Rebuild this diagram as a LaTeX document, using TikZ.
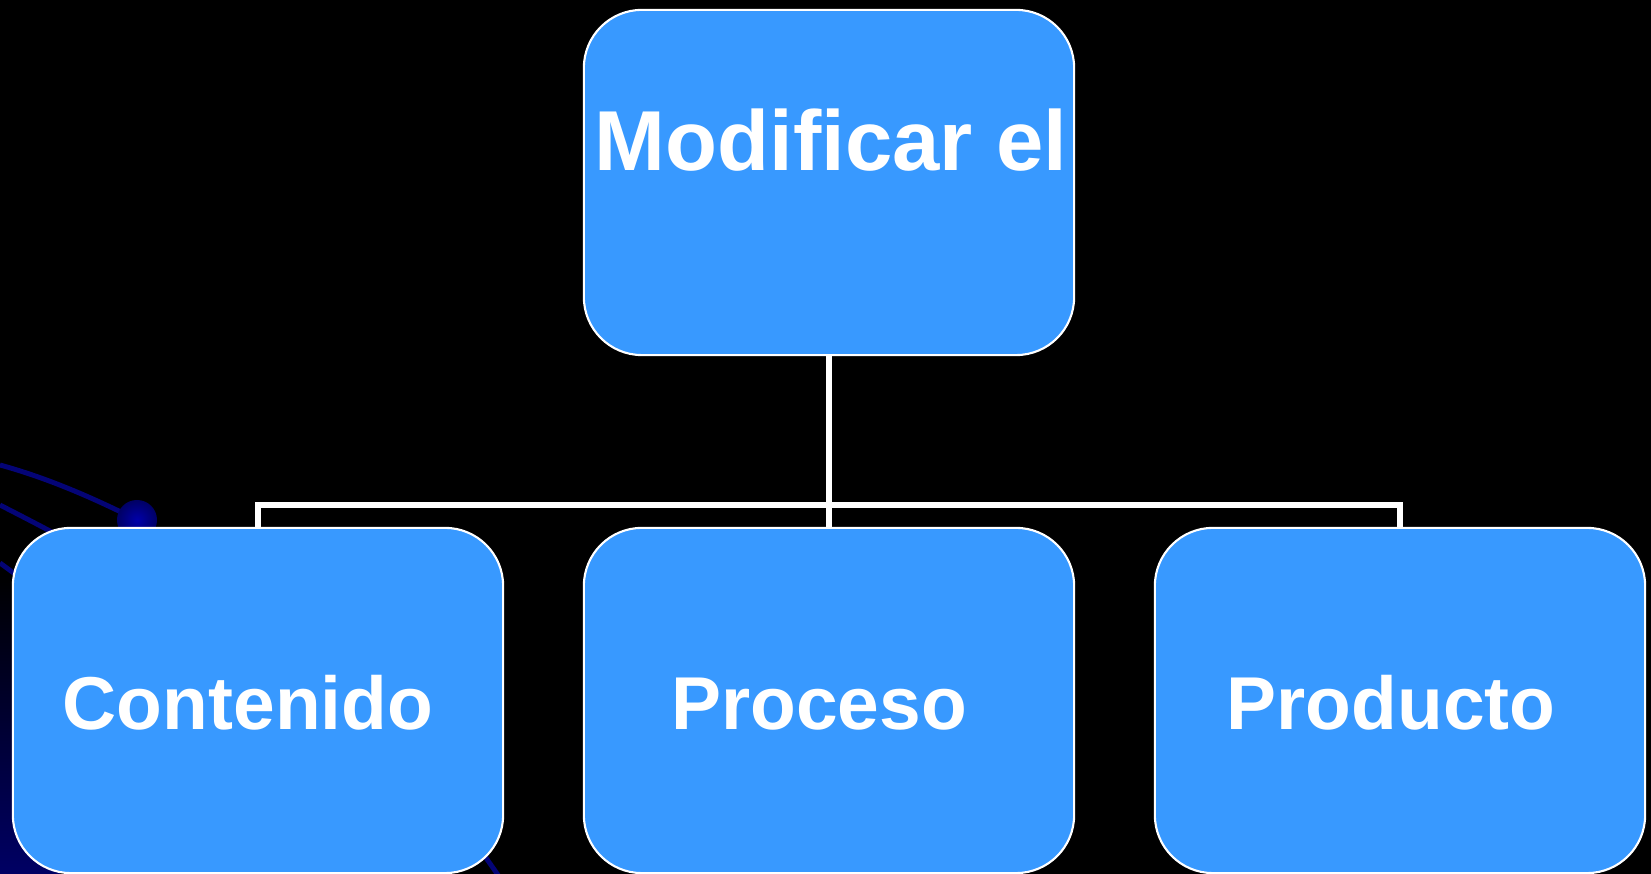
\documentclass[tikz,border=0pt]{standalone}
\usepackage{fontspec}
\setmainfont{Liberation Sans}
\definecolor{boxblue}{RGB}{56,153,255}
\definecolor{navyline}{RGB}{4,4,118}
\definecolor{navydeep}{RGB}{0,0,100}
\definecolor{ballblue}{RGB}{0,0,170}
\begin{document}
\begin{tikzpicture}[x=0.01cm,y=-0.01cm,
  box/.style={draw=white, line width=0.6pt, fill=boxblue, rounded corners=0.58cm,
    minimum width=4.9cm, minimum height=3.45cm, inner sep=0pt},
  conn/.style={draw=white, line width=1.7pt, line join=miter},
  deco/.style={draw=navyline, line width=1.4pt},
  toplbl/.style={text=white, font=\bfseries\fontsize{24.2}{30}\selectfont, inner sep=0pt, anchor=base},
  lbl/.style={text=white, font=\bfseries\fontsize{21.3}{27}\selectfont, inner sep=0pt, anchor=base}]
\fill[black] (0,0) rectangle (1651,874);
\useasboundingbox (0,0) rectangle (1651,874);
% background decoration
\shade[top color=black, bottom color=navydeep] (0,575) rectangle (60,874);
\draw[deco] (0,465) .. controls (40,476) and (80,492) .. (125,514);
\draw[deco] (0,505) .. controls (25,518) and (45,528) .. (70,542);
\draw[deco] (0,563) -- (30,585);
\draw[deco] (470,835) -- (505,885);
\shade[inner color=ballblue, outer color=navydeep] (137,520) circle (0.2cm);
% boxes
\node[box] (top) at (829,182.5) {};
\node[box] (cont) at (258,700.5) {};
\node[box] (proc) at (829,700.5) {};
\node[box] (prod) at (1400,700.5) {};
% texts
\node[toplbl] (toptxt) at (831,171) {Modificar el};
\node[lbl] (conttxt) at (248,730) {Contenido};
\node[lbl] (proctxt) at (819,730) {Proceso};
\node[lbl] (prodtxt) at (1391,730) {Producto};
% connectors
\coordinate (bus) at (829,505);
\draw[conn] (top.south) -- (proc.north);
\draw[conn] (cont.north) |- (bus) -| (prod.north);
\end{tikzpicture}
\end{document}
